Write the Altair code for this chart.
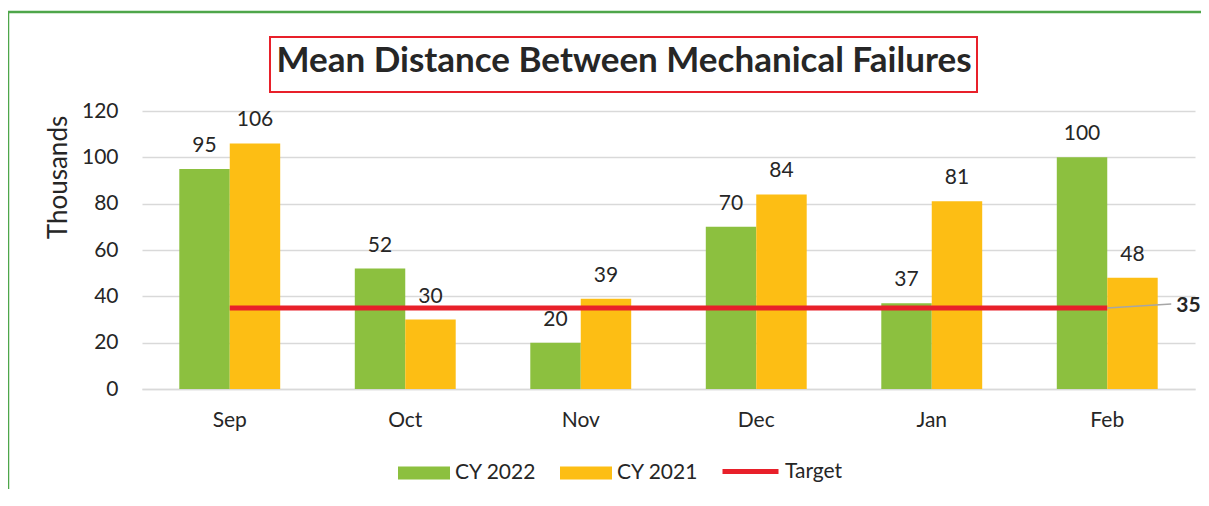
import altair as alt
import pandas as pd

months = ["Sep", "Oct", "Nov", "Dec", "Jan", "Feb"]
series_order = ["CY 2022", "CY 2021"]
cy2022 = [95, 52, 20, 70, 37, 100]
cy2021 = [106, 30, 39, 84, 81, 48]
target = [35, 35, 35, 35, 35, 35]
y_ticks = [0, 20, 40, 60, 80, 100, 120]
title_text = "Mean Distance Between Mechanical Failures"

GREEN = "#8CC03F"
ORANGE = "#FDBE14"
RED = "#E8202A"
FRAME = "#4EA64A"
TXT = "#262626"
FONT = "Lato"

bars_df = pd.DataFrame(
    [{"month": m, "series": "CY 2022", "value": v} for m, v in zip(months, cy2022)]
    + [{"month": m, "series": "CY 2021", "value": v} for m, v in zip(months, cy2021)]
)
target_df = pd.DataFrame({"month": months, "value": target, "name": ["Target"] * len(months)})
last_df = target_df.tail(1)
dummy = pd.DataFrame({"a": [0]})

x_enc = alt.X(
    "month:N",
    sort=months,
    scale=alt.Scale(paddingInner=0.425, paddingOuter=0.2125),
    axis=alt.Axis(
        title=None, labelAngle=0, ticks=False, tickSize=0, labelPadding=20,
        domainColor="#d9d9d9", domainWidth=1.5, grid=False,
    ),
)
y_enc = alt.Y(
    "value:Q",
    scale=alt.Scale(domain=[0, 120], nice=False),
    axis=alt.Axis(
        values=y_ticks, title="Thousands", grid=True, gridColor="#d9d9d9", gridWidth=1.5,
        domain=False, ticks=False, tickSize=0, labelPadding=24,
        titleX=-84, titleY=66, titleAngle=-90, titleAlign="center", titleBaseline="middle",
        titleFontWeight="normal", titleFontSize=26,
    ),
)
xoff = alt.XOffset("series:N", sort=series_order, scale=alt.Scale(paddingInner=0, paddingOuter=0))

bars = alt.Chart(bars_df).mark_bar().encode(
    x=x_enc,
    y=y_enc,
    xOffset=xoff,
    fill=alt.Fill(
        "series:N",
        sort=series_order,
        scale=alt.Scale(domain=series_order, range=[GREEN, ORANGE]),
        legend=alt.Legend(
            title=None, orient="none", legendX=256, legendY=336, direction="horizontal",
            symbolType="M-1,-0.25H1V0.25H-1Z", symbolSize=2704, symbolStrokeWidth=0,
            labelOffset=5, columnPadding=23, padding=0,
        ),
    ),
)

bar_labels = alt.Chart(bars_df).mark_text(
    baseline="alphabetic", dy=-17, fontSize=21, font=FONT, color=TXT
).encode(
    x=alt.X("month:N", sort=months),
    y="value:Q",
    xOffset=xoff,
    text="value:Q",
)

line = alt.Chart(target_df).mark_line(strokeWidth=5).encode(
    x=alt.X("month:N", sort=months),
    y="value:Q",
    stroke=alt.Stroke(
        "name:N",
        scale=alt.Scale(domain=["Target"], range=[RED]),
        legend=alt.Legend(
            title=None, orient="none", legendX=578, legendY=330, direction="horizontal",
            symbolType="stroke", symbolSize=3136, symbolStrokeWidth=5,
            labelOffset=4, padding=0,
        ),
    ),
)

leader = alt.Chart(last_df).mark_rule(
    color="#a6a6a6", strokeWidth=1.5, x2Offset=64, y2Offset=-4
).encode(
    x=alt.X("month:N", sort=months),
    x2="month:N",
    y="value:Q",
    y2="value:Q",
)

target_label = alt.Chart(last_df).mark_text(
    align="left", baseline="middle", dx=69, dy=-2, fontSize=21, fontWeight="bold",
    font=FONT, color=TXT
).encode(
    x=alt.X("month:N", sort=months),
    y="value:Q",
    text="value:Q",
)

frame = alt.Chart(dummy).mark_rect(filled=False, stroke=FRAME, strokeWidth=2.5).encode(
    x=alt.value(-134), x2=alt.value(1200), y=alt.value(-99), y2=alt.value(600)
)

title_box = alt.Chart(dummy).mark_rect(filled=False, stroke=RED, strokeWidth=2).encode(
    x=alt.value(128), x2=alt.value(835), y=alt.value(-74), y2=alt.value(-19)
)
title = alt.Chart(dummy).mark_text(
    text=title_text, fontSize=35, fontWeight="bold", font=FONT, color=TXT,
    align="center", baseline="alphabetic"
).encode(x=alt.value(482), y=alt.value(-39))

chart = alt.layer(
    frame, title_box, title, bars, line, leader, bar_labels, target_label
).properties(
    width=1053,
    height=278,
    autosize=alt.AutoSizeParams(type="none"),
    padding={"left": 134, "top": 103, "right": 6, "bottom": 100},
).configure_view(
    stroke=None
).configure_axis(
    labelFont=FONT, titleFont=FONT, labelFontSize=21, titleFontSize=21,
    labelColor=TXT, titleColor=TXT,
).configure_legend(
    labelFont=FONT, labelFontSize=21, labelColor=TXT,
)

chart.save("out.html", embed_options={"renderer": "svg", "actions": False})
